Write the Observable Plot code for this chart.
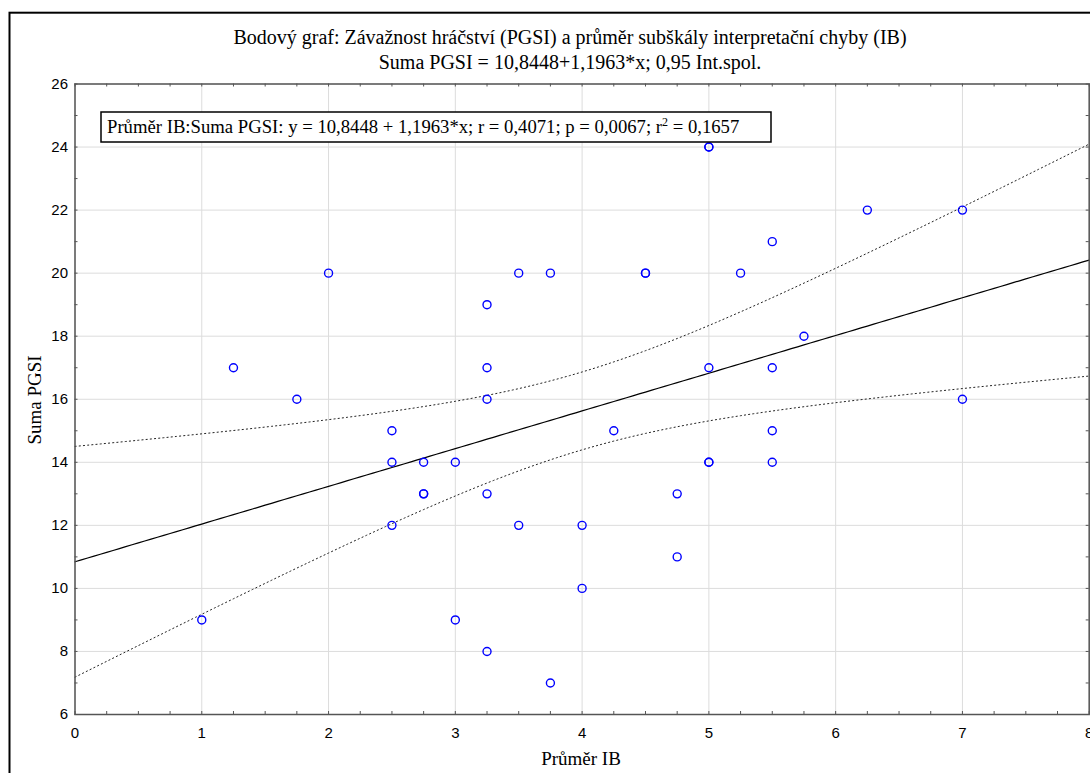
<!DOCTYPE html>
<html>
<head>
<meta charset="utf-8">
<script src="https://cdn.jsdelivr.net/npm/d3@7"></script>
<script src="https://cdn.jsdelivr.net/npm/@observablehq/plot@0.6"></script>
<style>
  html, body { margin: 0; padding: 0; background: #fff; }
  #chart svg { display: block; }
</style>
</head>
<body>
<div id="chart"></div>
<script>
// ---- data ----
const prumerIB = [1, 1.25, 1.75, 2, 2.5, 2.5, 2.5, 2.75, 2.75, 2.75, 3, 3,
  3.25, 3.25, 3.25, 3.25, 3.25, 3.5, 3.5, 3.75, 3.75, 4, 4, 4.25, 4.5, 4.5,
  4.75, 4.75, 5, 5, 5, 5, 5, 5.25, 5.5, 5.5, 5.5, 5.5, 5.75, 6.25, 7, 7];
const sumaPGSI = [9, 17, 16, 20, 15, 14, 12, 14, 13, 13, 14, 9,
  19, 17, 16, 13, 8, 20, 12, 20, 7, 12, 10, 15, 20, 20,
  13, 11, 24, 24, 17, 14, 14, 20, 21, 17, 15, 14, 18, 22, 22, 16];
const intercept = 10.8448;
const slope = 1.1963;
const xTicks = [0, 1, 2, 3, 4, 5, 6, 7, 8];
const yTicks = [6, 8, 10, 12, 14, 16, 18, 20, 22, 24, 26];
const titleLine1 = "Bodový graf: Závažnost hráčství (PGSI) a průměr subškály interpretační chyby (IB)";
const titleLine2 = "Suma PGSI = 10,8448+1,1963*x; 0,95 Int.spol.";
const xLabel = "Průměr IB";
const yLabel = "Suma PGSI";
const legendText = "Průměr IB:Suma PGSI: y = 10,8448 + 1,1963*x; r = 0,4071; p = 0,0067; r";
const legendTail = " = 0,1657";

// ---- derived: regression line and 95% confidence band of the mean ----
const points = prumerIB.map((x, i) => ({x, y: sumaPGSI[i]}));
const n = points.length;
const xbar = d3.mean(prumerIB);
const sxx = d3.sum(prumerIB, x => (x - xbar) ** 2);
const sse = d3.sum(points, p => (p.y - (intercept + slope * p.x)) ** 2);
const s = Math.sqrt(sse / (n - 2));
const tq = 2.02; // t(0.975, df ≈ 40)
const grid = d3.range(0, 8.0001, 0.05);
const fit = grid.map(x => {
  const yh = intercept + slope * x;
  const h = tq * s * Math.sqrt(1 / n + (x - xbar) ** 2 / sxx);
  return {x, y: yh, lo: yh - h, hi: yh + h};
});

const W = 1090, H = 773;
const mL = 74.5, mR = 1.3, mT = 83.5, mB = 59;
const plotH = H - mT - mB;
const xMinor = d3.range(0, 8.0001, 0.25);
const yMinor = d3.range(6, 26.0001, 1);

const chart = Plot.plot({
  width: W, height: H,
  marginLeft: mL, marginRight: mR, marginTop: mT, marginBottom: mB,
  x: {domain: [0, 8]},
  y: {domain: [6, 26]},
  style: {fontFamily: "Liberation Sans, Arial, sans-serif", fontSize: "15px", color: "#000", background: "#fff"},
  marks: [
    Plot.gridX(xTicks, {stroke: "#dcdcdc", strokeOpacity: 1, strokeWidth: 1}),
    Plot.gridY(yTicks, {stroke: "#dcdcdc", strokeOpacity: 1, strokeWidth: 1}),
    // minor ticks pointing inward
    Plot.tickX(xMinor, {x: d => d, insetTop: plotH - 3, stroke: "#555"}),
    Plot.tickX(xMinor, {x: d => d, insetBottom: plotH - 3, stroke: "#555"}),
    Plot.tickY(yMinor, {y: d => d, insetRight: W - mL - mR - 3, stroke: "#555"}),
    Plot.tickY(yMinor, {y: d => d, insetLeft: W - mL - mR - 3, stroke: "#555"}),
    Plot.axisX(xTicks, {tickSize: 0, tickPadding: 13, label: null, fontSize: 15, tickFormat: d => String(d)}),
    Plot.axisY(yTicks, {tickSize: 0, tickPadding: 7, label: null, fontSize: 15, tickFormat: d => String(d)}),
    Plot.line(fit, {x: "x", y: "hi", stroke: "#222", strokeWidth: 1, strokeDasharray: "1.2,3"}),
    Plot.line(fit, {x: "x", y: "lo", stroke: "#222", strokeWidth: 1, strokeDasharray: "1.2,3"}),
    Plot.line(fit, {x: "x", y: "y", stroke: "#000", strokeWidth: 1.2}),
    Plot.dot(points, {x: "x", y: "y", r: 4, stroke: "#0000ff", strokeWidth: 1.4, fill: "none"}),
    Plot.frame({stroke: "#555", strokeWidth: 1.5})
  ]
});

const svg = d3.select(chart);
const serif = "Liberation Serif, Times New Roman, serif";
// outer frame
svg.append("rect").attr("x", 9.5).attr("y", 12.7).attr("width", W + 20).attr("height", H + 20)
  .attr("fill", "none").attr("stroke", "#000").attr("stroke-width", 2);
// titles
svg.append("text").attr("x", 570).attr("y", 44).attr("text-anchor", "middle")
  .attr("font-family", serif).attr("font-size", 20).text(titleLine1);
svg.append("text").attr("x", 570).attr("y", 69).attr("text-anchor", "middle")
  .attr("font-family", serif).attr("font-size", 20).text(titleLine2);
// axis labels
svg.append("text").attr("x", 581).attr("y", 765).attr("text-anchor", "middle")
  .attr("font-family", serif).attr("font-size", 19).text(xLabel);
svg.append("text").attr("transform", "translate(41,400) rotate(-90)").attr("text-anchor", "middle")
  .attr("font-family", serif).attr("font-size", 19).text(yLabel);
// legend box
const lg = svg.append("g");
lg.append("rect").attr("x", 101).attr("y", 112).attr("width", 670).attr("height", 30)
  .attr("fill", "#fff").attr("stroke", "#000").attr("stroke-width", 1.5);
const lt = lg.append("text").attr("x", 107).attr("y", 133).attr("text-anchor", "start")
  .attr("font-family", serif).attr("font-size", 18.7);
lt.append("tspan").text(legendText);
lt.append("tspan").attr("dy", -7).attr("font-size", 12).text("2");
lt.append("tspan").attr("dy", 7).text(legendTail);

document.getElementById("chart").appendChild(chart);
</script>
</body>
</html>
